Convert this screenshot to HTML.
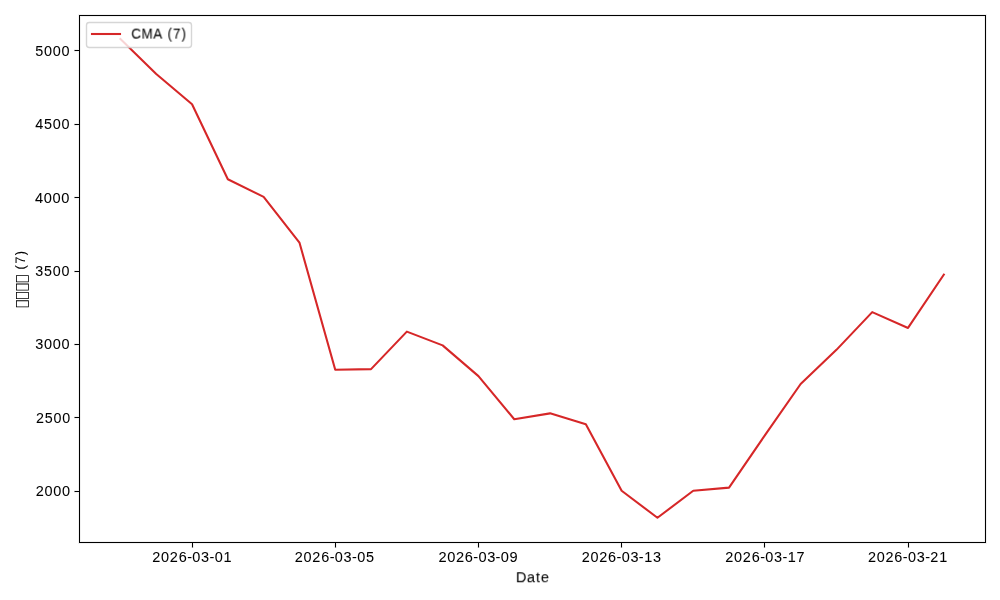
<!DOCTYPE html><html><head><meta charset="utf-8"><title>CMA (7)</title><style>html,body{margin:0;padding:0;background:#fff;width:1000px;height:600px;overflow:hidden}svg{display:block}.t{font-family:"Liberation Sans",sans-serif;font-size:13.889px;fill:#000;stroke:#000;stroke-width:0.05px;will-change:transform}</style></head><body>
<svg width="1000" height="600" viewBox="0 0 1000 600">
<rect width="1000" height="600" fill="#fff"/>
<defs><clipPath id="ax"><rect x="79.28" y="15" width="905.72" height="526.72"/></clipPath></defs>
<path d="M120.45 38.94 L156.25 74.00 L192.05 104.19 L227.84 179.25 L263.64 196.85 L299.44 242.58 L335.24 369.68 L371.04 369.10 L406.84 331.65 L442.64 345.40 L478.44 376.15 L514.24 419.25 L550.04 413.35 L585.84 424.30 L621.64 490.76 L657.44 517.78 L693.24 490.75 L729.04 487.60 L764.83 435.40 L800.63 384.00 L836.43 349.85 L872.23 312.10 L908.03 327.95 L943.83 274.60" fill="none" stroke="#d62728" stroke-width="2.0833" stroke-linejoin="round" stroke-linecap="square" clip-path="url(#ax)"/>
<g shape-rendering="crispEdges"><rect x="78" y="14" width="1" height="530" fill="#f1f1f1"/><rect x="80" y="16" width="1" height="526" fill="#f1f1f1"/><rect x="984" y="16" width="1" height="526" fill="#f1f1f1"/><rect x="986" y="14" width="1" height="530" fill="#f1f1f1"/><rect x="78" y="14" width="909" height="1" fill="#f1f1f1"/><rect x="80" y="16" width="905" height="1" fill="#f1f1f1"/><rect x="80" y="541" width="905" height="1" fill="#f1f1f1"/><rect x="78" y="543" width="909" height="1" fill="#f1f1f1"/><rect x="74" y="49" width="5" height="1" fill="#f1f1f1"/><rect x="74" y="51" width="5" height="1" fill="#f1f1f1"/><rect x="74" y="123" width="5" height="1" fill="#f1f1f1"/><rect x="74" y="125" width="5" height="1" fill="#f1f1f1"/><rect x="74" y="196" width="5" height="1" fill="#f1f1f1"/><rect x="74" y="198" width="5" height="1" fill="#f1f1f1"/><rect x="74" y="270" width="5" height="1" fill="#f1f1f1"/><rect x="74" y="272" width="5" height="1" fill="#f1f1f1"/><rect x="74" y="343" width="5" height="1" fill="#f1f1f1"/><rect x="74" y="345" width="5" height="1" fill="#f1f1f1"/><rect x="74" y="416" width="5" height="1" fill="#f1f1f1"/><rect x="74" y="418" width="5" height="1" fill="#f1f1f1"/><rect x="74" y="490" width="5" height="1" fill="#f1f1f1"/><rect x="74" y="492" width="5" height="1" fill="#f1f1f1"/><rect x="191" y="543" width="1" height="5" fill="#f1f1f1"/><rect x="193" y="543" width="1" height="5" fill="#f1f1f1"/><rect x="334" y="543" width="1" height="5" fill="#f1f1f1"/><rect x="336" y="543" width="1" height="5" fill="#f1f1f1"/><rect x="477" y="543" width="1" height="5" fill="#f1f1f1"/><rect x="479" y="543" width="1" height="5" fill="#f1f1f1"/><rect x="620" y="543" width="1" height="5" fill="#f1f1f1"/><rect x="622" y="543" width="1" height="5" fill="#f1f1f1"/><rect x="763" y="543" width="1" height="5" fill="#f1f1f1"/><rect x="765" y="543" width="1" height="5" fill="#f1f1f1"/><rect x="907" y="543" width="1" height="5" fill="#f1f1f1"/><rect x="909" y="543" width="1" height="5" fill="#f1f1f1"/><rect x="79" y="15" width="1" height="528" fill="#000"/><rect x="985" y="15" width="1" height="528" fill="#000"/><rect x="79" y="15" width="907" height="1" fill="#000"/><rect x="79" y="542" width="907" height="1" fill="#000"/><rect x="75" y="50" width="4" height="1" fill="#000"/><rect x="74" y="50" width="1" height="1" fill="#7f7f7f"/><rect x="75" y="124" width="4" height="1" fill="#000"/><rect x="74" y="124" width="1" height="1" fill="#7f7f7f"/><rect x="75" y="197" width="4" height="1" fill="#000"/><rect x="74" y="197" width="1" height="1" fill="#7f7f7f"/><rect x="75" y="271" width="4" height="1" fill="#000"/><rect x="74" y="271" width="1" height="1" fill="#7f7f7f"/><rect x="75" y="344" width="4" height="1" fill="#000"/><rect x="74" y="344" width="1" height="1" fill="#7f7f7f"/><rect x="75" y="417" width="4" height="1" fill="#000"/><rect x="74" y="417" width="1" height="1" fill="#7f7f7f"/><rect x="75" y="491" width="4" height="1" fill="#000"/><rect x="74" y="491" width="1" height="1" fill="#7f7f7f"/><rect x="192" y="543" width="1" height="4" fill="#000"/><rect x="192" y="547" width="1" height="1" fill="#7f7f7f"/><rect x="335" y="543" width="1" height="4" fill="#000"/><rect x="335" y="547" width="1" height="1" fill="#7f7f7f"/><rect x="478" y="543" width="1" height="4" fill="#000"/><rect x="478" y="547" width="1" height="1" fill="#7f7f7f"/><rect x="621" y="543" width="1" height="4" fill="#000"/><rect x="621" y="547" width="1" height="1" fill="#7f7f7f"/><rect x="764" y="543" width="1" height="4" fill="#000"/><rect x="764" y="547" width="1" height="1" fill="#7f7f7f"/><rect x="908" y="543" width="1" height="4" fill="#000"/><rect x="908" y="547" width="1" height="1" fill="#7f7f7f"/></g>
<g class="t">
<text x="0.35 8.77 17.18 25.60" y="0" transform="matrix(1.0394 0.0001 0 1.0675 34.78 56.00)">5000</text>
<text x="0.35 8.76 17.18 25.60" y="0" transform="matrix(1.0396 0.0001 0 1.0653 34.86 129.00)">4500</text>
<text x="0.29 8.59 16.89 25.19" y="0" transform="matrix(1.0542 0.0001 0 1.0661 34.59 203.00)">4000</text>
<text x="0.39 8.89 17.40 25.90" y="0" transform="matrix(1.0290 0.0001 0 1.0675 34.97 276.00)">3500</text>
<text x="0.33 8.71 17.10 25.48" y="0" transform="matrix(1.0438 0.0001 0 1.0683 34.80 349.00)">3000</text>
<text x="0.39 8.88 17.37 25.87" y="0" transform="matrix(1.0300 0.0001 0 1.0661 35.53 423.00)">2500</text>
<text x="0.32 8.70 17.07 25.45" y="0" transform="matrix(1.0450 0.0001 0 1.0669 35.31 496.00)">2000</text>
<text x="0.33 8.72 17.11 25.56 33.70 38.68 47.07 55.15 60.13 68.58" y="0" transform="matrix(1.0431 0.0001 0 1.0577 152.02 562.00)">2026-03-01</text>
<text x="0.34 8.74 17.14 25.60 33.76 38.75 47.15 55.24 60.23 68.63" y="0" transform="matrix(1.0414 0.0001 0 1.0582 294.50 562.00)">2026-03-05</text>
<text x="0.30 8.62 16.94 25.31 33.40 38.33 46.65 54.67 59.60 67.98" y="0" transform="matrix(1.0518 0.0001 0 1.0586 438.09 562.00)">2026-03-09</text>
<text x="0.35 8.78 17.20 25.69 33.86 38.87 47.30 55.41 60.48 68.97" y="0" transform="matrix(1.0384 0.0001 0 1.0577 581.34 562.00)">2026-03-13</text>
<text x="0.34 8.75 17.16 25.63 33.79 38.78 47.19 55.29 60.35 68.81" y="0" transform="matrix(1.0406 0.0001 0 1.0568 724.98 562.00)">2026-03-17</text>
<text x="0.35 8.77 17.19 25.68 33.84 38.85 47.27 55.38 60.39 68.87" y="0" transform="matrix(1.0389 0.0001 0 1.0572 867.62 562.00)">2026-03-21</text>
<text x="0.10 10.48 19.13 23.87" y="0" transform="matrix(1.0504 0.0001 0 1.0573 515.87 582.00)">Date</text>
<text x="5.34 11.44 20.58" y="0" transform="matrix(0.001 -0.9311 0.9905 0 24.90 274.47)">(7)</text>
</g>
<path d="M16 275.220H28.79V282.150H16Z M16.81 276.000V281.380H28V276.000Z M16 283.597H28.79V290.527H16Z M16.81 284.377V289.757H28V284.377Z M16 291.974H28.79V298.904H16Z M16.81 292.754V298.134H28V292.754Z M16 300.351H28.79V307.281H16Z M16.81 301.131V306.511H28V301.131Z " fill="#000" fill-rule="evenodd"/>
<rect x="86.5" y="22.5" width="105" height="25" rx="2.78" ry="2.78" fill="#fff" fill-opacity="0.8" stroke="#ccc" stroke-opacity="0.8" stroke-width="1.389"/>
<path d="M90.96 34H121.04" stroke="#d62728" stroke-width="2.0833"/>
<g class="t"><text x="0.05 10.58 22.90 32.81 37.55 43.41 52.29" y="0" transform="matrix(0.9626 0.0001 0 1.0265 131.34 39.00)">CMA (7)</text></g>
</svg></body></html>
